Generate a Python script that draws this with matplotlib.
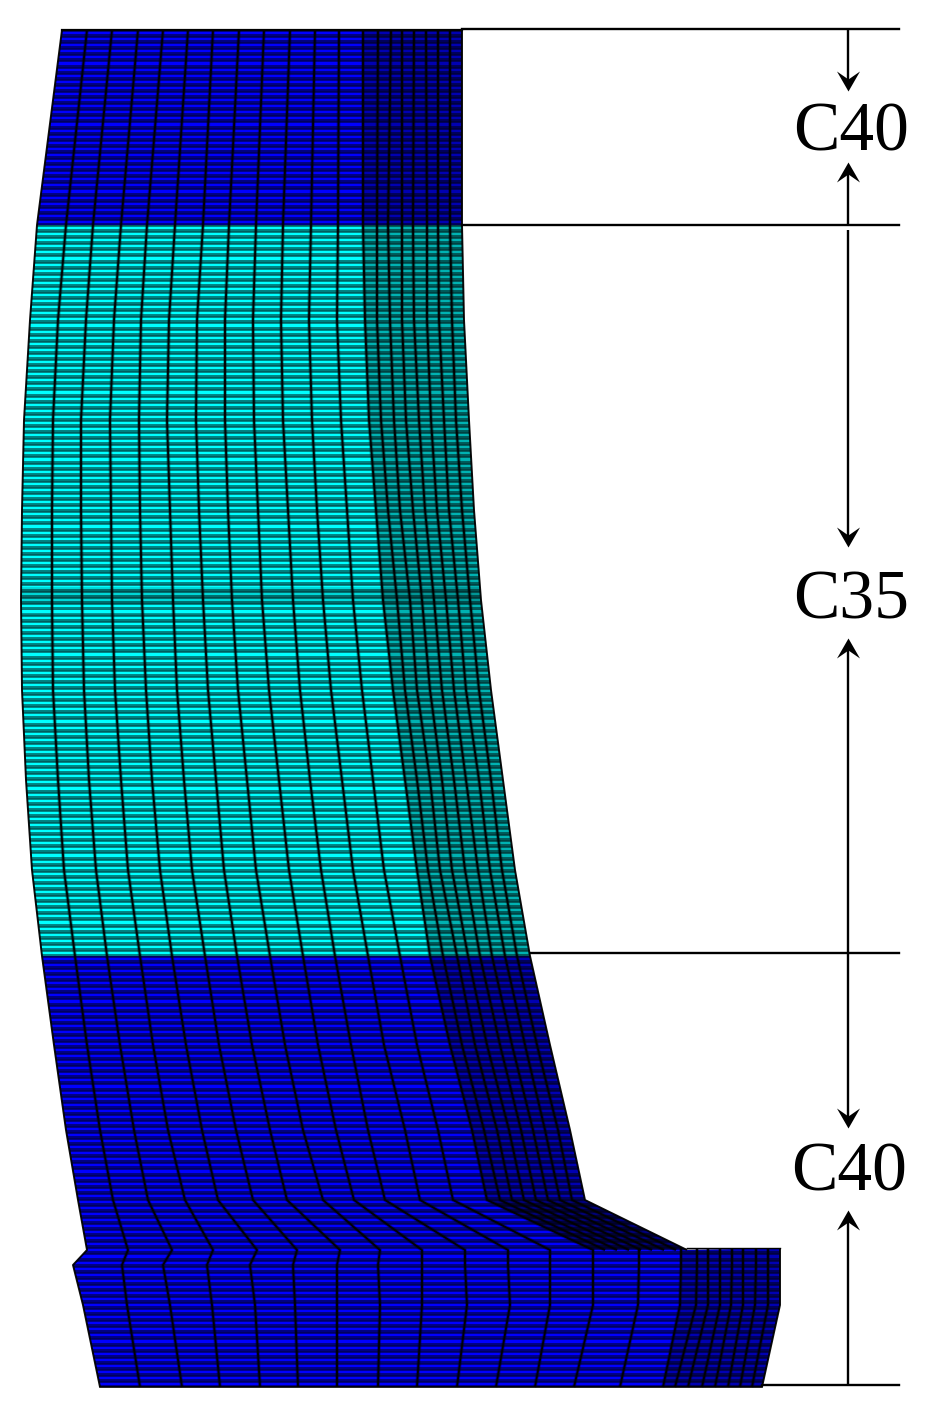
import numpy as np
import matplotlib
matplotlib.use('Agg')
import matplotlib.pyplot as plt
from matplotlib.patches import Polygon
from matplotlib.path import Path

W, H = 927, 1406

# control rows of the wall mesh, pixel coordinates
UPPER_Y = [30, 225, 320, 420, 510, 600, 690, 780, 870, 956, 1045, 1130, 1200, 1250]
UPPER_NODES = [
    [62, 87, 112, 138, 163, 188, 213, 239, 264, 290, 315, 339, 363, 378, 391, 402, 414, 426, 438, 450, 462],
    [37, 66, 93, 121, 147, 175, 203, 229, 256, 283, 311, 338, 363, 377, 388, 402, 413, 427, 438, 450, 462],
    [30, 58, 86, 114, 141, 169, 197, 225, 253, 281, 309, 337, 365, 377, 390, 402, 414, 427, 439, 452, 464],
    [24, 53, 81, 110, 139, 167, 196, 225, 254, 283, 312, 341, 369, 381, 394, 406, 419, 431, 444, 456, 469],
    [22, 52, 81, 111, 140, 170, 199, 228, 258, 288, 317, 347, 376, 388, 400, 413, 425, 437, 449, 462, 474],
    [21, 52, 82, 112, 142, 173, 203, 232, 262, 293, 323, 353, 383, 397, 410, 422, 434, 446, 458, 470, 481],
    [22, 53, 84, 115, 146, 177, 208, 238, 269, 300, 331, 362, 393, 405, 417, 430, 442, 454, 466, 479, 491],
    [26, 58, 89, 121, 152, 184, 216, 247, 279, 310, 342, 373, 405, 417, 430, 442, 454, 466, 479, 491, 503],
    [32, 64, 96, 128, 160, 192, 224, 256, 289, 321, 353, 384, 417, 428, 440, 452, 465, 478, 490, 502, 515],
    [42, 75, 107, 140, 172, 205, 237, 270, 303, 335, 368, 400, 430, 443, 457, 468, 480, 492, 505, 517, 530],
    [54, 87, 120, 153, 186, 219, 252, 285, 318, 351, 384, 417, 450, 462, 475, 487, 500, 512, 525, 537, 550],
    [66, 100, 134, 168, 202, 236, 270, 303, 336, 368, 405, 438, 472, 484, 497, 509, 521, 533, 545, 558, 570],
    [78, 113, 148, 185, 218, 253, 287, 323, 354, 385, 420, 453, 487, 500, 512, 524, 536, 548, 560, 572, 585],
    [87, 128, 172, 213, 257, 297, 340, 380, 422, 465, 508, 550, 593, 605, 617, 629, 641, 652, 664, 676, 687],
]

# foot of the wall
LOWER_Y = [1265, 1305, 1387]
LOWER_NODES = [
    [73, 122, 163, 207, 250, 293, 337, 378, 422, 465, 508, 550, 593, 639, 681, 697, 708, 720, 732, 743, 756, 768, 780],
    [83, 127, 170, 212, 255, 295, 337, 380, 422, 467, 510, 550, 593, 638, 680, 696, 708, 720, 731, 743, 755, 768, 780],
    [100, 140, 182, 220, 260, 298, 337, 378, 417, 457, 496, 535, 574, 620, 663, 675, 688, 702, 715, 728, 740, 752, 762],
]
FOOT_TOP = 1248

# number of element rows in each concrete zone
ZONE_Y = [30, 225, 956, 1387]
ZONE_ROWS = [32, 120, 71]
ZONE_COLORS = ['#0000ff', '#00ffff', '#0000ff']
WALL_COLS = 13  # columns that run on into the foot
FOOT_WIDE_COLS = 15

# dimension lines
LEVEL_LINES = [(462, 29), (462, 225), (530, 953), (762, 1385)]
LEVEL_END = 899
DIM_X = 848
ARROWS = [(29, 91), (225, 162), (230, 547), (953, 638), (953, 1128), (1385, 1210)]
LABELS = ['C40', 'C35', 'C40']
LABEL_POS = [(851, 134), (851, 602), (849, 1174)]

plt.rcParams['font.family'] = ['Liberation Serif', 'DejaVu Serif']

fig = plt.figure(figsize=(W / 100, H / 100), dpi=100)
ax = fig.add_axes([0, 0, 1, 1])
ax.set_xlim(0, W)
ax.set_ylim(H, 0)
ax.axis('off')

upper = np.array(UPPER_NODES, dtype=float)
lower = np.array(LOWER_NODES, dtype=float)
last_upper = upper.shape[1] - 1
last_lower = lower.shape[1] - 1


def left_edge(y_from, y_to):
    return [(r[0], y) for r, y in zip(upper, UPPER_Y) if y_from <= y <= y_to]


def right_edge(y_from, y_to):
    return [(r[-1], y) for r, y in zip(upper, UPPER_Y) if y_from <= y <= y_to]


zones = [
    left_edge(30, 225) + right_edge(30, 225)[::-1],
    left_edge(225, 956) + right_edge(225, 956)[::-1],
    left_edge(956, 1250)
    + [(r[0], y) for r, y in zip(lower, LOWER_Y)]
    + [(r[-1], y) for r, y in zip(lower, LOWER_Y)][::-1]
    + [(lower[0][-1], FOOT_TOP)]
    + right_edge(956, 1250)[::-1],
]

for i, outline in enumerate(zones):
    poly = Polygon(outline, closed=True, fc=ZONE_COLORS[i], ec='none', zorder=1)
    ax.add_patch(poly)
    rows = np.linspace(ZONE_Y[i], ZONE_Y[i + 1], ZONE_ROWS[i] + 1)
    # wide half-transparent band gives the dark stripes, thin core the element edge
    wide = ax.hlines(rows, 0, W, color='black', lw=2.8, alpha=0.5, zorder=2)
    core = ax.hlines(rows, 0, W, color='black', lw=0.6, alpha=0.3, zorder=2)
    wide.set_clip_path(poly)
    core.set_clip_path(poly)
    if i == 1:
        # darker belt and bright stripe at mid height of the C35 zone
        belt = ax.hlines([595], 0, W, color='black', lw=12, alpha=0.16, zorder=2)
        belt.set_clip_path(poly)
        stripe = ax.hlines([611], 0, W, color='#00ffff', lw=2.4, zorder=2)
        stripe.set_clip_path(poly)

# the narrow columns read much darker in the picture
wall_narrow = list(zip(upper[:, WALL_COLS - 1], UPPER_Y)) + list(zip(upper[:, -1], UPPER_Y))[::-1]
ax.add_patch(Polygon(wall_narrow, closed=True, fc='black', ec='none', alpha=0.3, zorder=2))
taper = [(upper[-2, WALL_COLS - 1], UPPER_Y[-2]), (upper[-2, -1], UPPER_Y[-2]),
         (upper[-1, -1], UPPER_Y[-1]), (upper[-1, WALL_COLS - 1], UPPER_Y[-1])]
ax.add_patch(Polygon(taper, closed=True, fc='black', ec='none', alpha=0.3, zorder=2))
foot_narrow = ([(lower[0, FOOT_WIDE_COLS - 1], FOOT_TOP)] + list(zip(lower[:, FOOT_WIDE_COLS - 1], LOWER_Y))
               + list(zip(lower[:, -1], LOWER_Y))[::-1] + [(lower[0, -1], FOOT_TOP)])
ax.add_patch(Polygon(foot_narrow, closed=True, fc='black', ec='none', alpha=0.3, zorder=2))


def mesh_line(xs, ys, edge):
    # soft halo only on inner lines, it would spill outside the outline otherwise
    if not edge:
        ax.plot(xs, ys, color='black', lw=2.8, alpha=0.3, zorder=3, solid_capstyle='butt')
    ax.plot(xs, ys, color='black', lw=1.4, alpha=0.95, zorder=3, solid_capstyle='butt')


# vertical mesh lines
for col in range(upper.shape[1]):
    xs = list(upper[:, col])
    ys = list(UPPER_Y)
    if col < WALL_COLS:
        xs += list(lower[:, col])
        ys += LOWER_Y
    mesh_line(xs, ys, col in (0, last_upper))
for col in range(WALL_COLS, lower.shape[1]):
    xs = [lower[0, col]] + list(lower[:, col])
    ys = [FOOT_TOP] + LOWER_Y
    mesh_line(xs, ys, col == last_lower)

ax.plot([687, 780], [FOOT_TOP, FOOT_TOP], color='black', lw=1, zorder=3)
ax.plot([100, 762], [1387, 1387], color='black', lw=1.2, zorder=3)
ax.plot([62, 462], [30, 30], color='black', lw=1.6, zorder=3)

for x0, y in LEVEL_LINES:
    ax.plot([x0, LEVEL_END], [y, y], color='black', lw=1.7, zorder=4)

# barbed filled arrow heads, tip at the origin
head_down = Path([(0, 0), (-11.5, 20), (0, 12), (11.5, 20), (0, 0)], closed=True)
head_up = Path([(0, 0), (-11.5, -20), (0, -12), (11.5, -20), (0, 0)], closed=True)
for y0, y1 in ARROWS:
    down = y1 > y0
    ax.plot([DIM_X, DIM_X], [y0, y1 + (-8 if down else 8)], color='black', lw=1.7, zorder=4,
            solid_capstyle='butt')
    ax.plot([DIM_X], [y1], marker=head_down if down else head_up, ms=28.8, mfc='black',
            mec='none', ls='none', zorder=4)

for label, (x, y) in zip(LABELS, LABEL_POS):
    ax.text(x, y, label, fontsize=50, ha='center', va='center', color='black', zorder=5)

fig.savefig('out.png', dpi=100, facecolor='white')
